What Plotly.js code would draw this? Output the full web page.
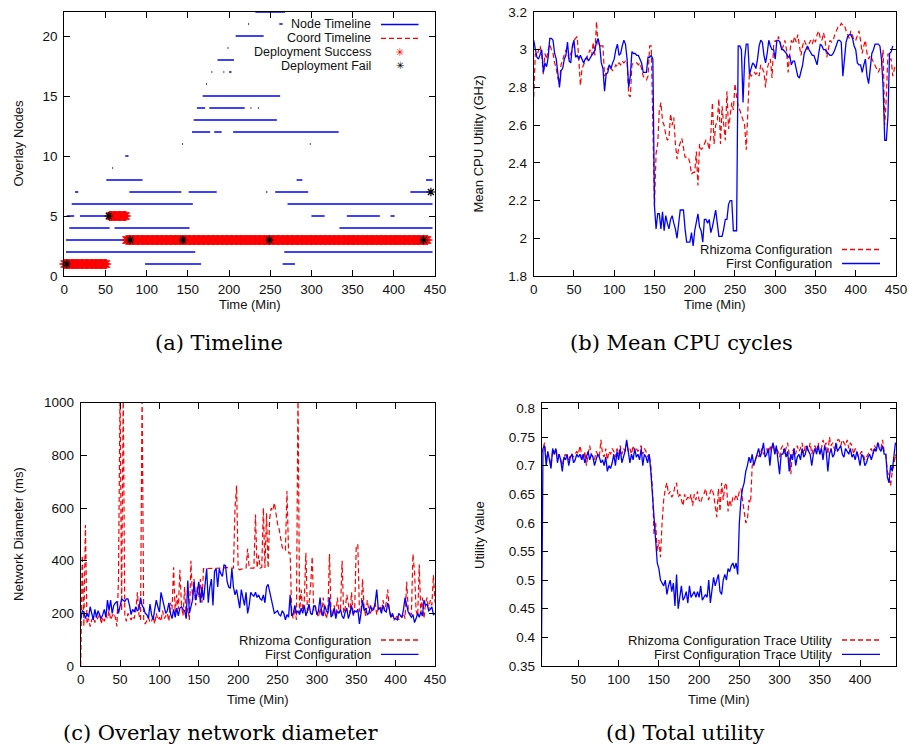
<!DOCTYPE html>
<html><head><meta charset="utf-8">
<script src="https://cdn.plot.ly/plotly-3.0.1.min.js"></script>
<style>html,body{margin:0;padding:0;background:#fff}#chart{width:909px;height:745px}</style>
</head><body><div id="chart"></div><script>
// ---------- (a) Timeline ----------
const nodeY     = [1,1, 2,2, 3, 4,4,4, 5,5,5,5,5, 6,6, 7,7,7,7,7,7, 8,8,8, 9, 10, 11,11, 12,12,12, 13, 14,14,14,14, 15, 16, 17,17,17, 18, 19, 20, 21,21, 22];
const nodeStart = [98,265, 2,267, 2, 6,61,334, 3,19,300,343,396, 9,271, 13,79,151,245,256,420, 51,282,439, 58, 74, 143,298, 155,182,205, 157, 161,176,226,235, 168, 172, 178.5,193,200, 186, 198, 208, 223,261, 232];
const nodeEnd   = [166,280, 159,447, 74, 55,152,447, 12,51,316,383,401, 156,447, 17,142,185,246.5,296,444, 95,289,447, 59.2, 78, 144.2,299.2, 177,191,333, 258, 171,219,227.2,236.2, 262, 173.2, 179.7,194.2,203, 206, 199.2, 242, 224.2,265, 268];
const runStart = [0, 55, 75];
const runEnd   = [51, 75, 441];
const runY     = [1, 5, 3];
const failX = [3, 54, 80, 144, 249, 436, 445];
const failY = [1, 5, 3, 3, 3, 3, 7];

// ---------- (b) Mean CPU utility, 2-minute samples from t=0 ----------
const cpuFirst = [
3.05,3.00,2.96,2.95,2.98,3.00,2.88,2.93,2.91,2.96,
3.06,3.06,3.05,2.98,2.95,2.88,2.80,2.89,2.90,2.95,
2.97,3.04,2.94,2.93,3.02,3.05,2.96,2.97,2.95,2.97,
2.95,2.93,2.95,2.96,2.94,2.96,2.97,2.98,3.00,3.04,
3.06,3.02,2.93,2.90,2.78,2.87,2.88,2.92,2.90,2.93,
2.95,3.00,3.03,2.97,2.98,3.02,3.05,3.03,2.95,2.80,
2.86,2.99,2.98,2.98,2.97,2.97,2.95,2.93,2.88,2.88,
2.88,2.96,2.96,2.97,2.95,2.17,2.05,2.13,2.13,2.05,
2.14,2.04,2.12,2.08,2.05,2.10,2.12,2.08,2.05,2.00,
2.08,2.15,2.15,2.15,2.05,1.98,1.98,1.98,2.03,1.96,
2.04,2.08,2.13,2.06,2.04,1.98,2.10,2.10,2.08,2.10,
2.03,2.06,2.10,2.15,2.08,2.01,2.01,2.01,2.05,2.10,
2.10,2.18,2.20,2.20,2.04,2.04,2.04,3.02,3.02,3.00,
2.72,2.95,3.03,3.03,2.87,2.90,2.93,2.92,2.90,2.95,
3.02,3.05,3.04,2.97,2.93,2.98,3.05,3.02,3.00,3.00,
2.95,3.05,3.05,3.04,3.00,3.00,2.99,2.98,2.96,2.97,
2.92,2.94,2.94,2.90,2.86,2.85,2.88,2.92,2.98,3.00,
3.02,3.00,2.98,2.97,2.97,2.94,2.92,2.98,3.03,3.02,
3.00,3.00,2.99,2.98,2.97,2.97,2.98,3.00,3.03,3.05,
3.05,3.04,2.86,2.95,3.04,3.07,3.08,3.08,3.06,3.02,
3.00,2.93,2.92,2.92,2.88,2.92,2.95,2.86,2.82,2.90,
2.98,3.00,3.03,3.03,3.03,3.02,2.95,2.80,2.52,2.52,
2.65,2.98,2.99,3.02];
const cpuRhizoma = [
2.75,2.98,2.97,2.99,3.02,2.97,2.87,2.98,2.95,3.00,
3.03,3.00,2.98,2.93,2.90,2.85,2.82,2.92,2.95,2.98,
3.00,2.98,2.95,2.98,3.00,3.05,3.06,3.07,2.95,2.81,
2.90,2.92,2.95,2.96,2.98,3.00,2.97,3.04,2.97,3.15,
3.02,3.02,3.02,3.02,2.86,2.88,2.90,2.92,2.90,2.89,
2.90,2.92,2.91,2.93,2.92,2.94,2.93,2.94,2.94,2.76,
2.75,2.92,2.93,2.93,2.93,2.92,2.93,2.90,2.86,2.85,
2.84,2.86,3.02,3.02,2.60,2.17,2.45,2.50,2.68,2.72,
2.62,2.60,2.55,2.52,2.53,2.66,2.60,2.64,2.50,2.42,
2.48,2.50,2.53,2.48,2.43,2.43,2.43,2.40,2.34,2.35,
2.35,2.46,2.28,2.50,2.47,2.48,2.50,2.52,2.51,2.47,
2.55,2.72,2.50,2.60,2.62,2.74,2.50,2.70,2.60,2.52,
2.78,2.58,2.65,2.72,2.68,2.82,2.75,2.70,2.68,2.65,
2.62,2.60,2.47,2.70,2.88,2.86,2.87,2.88,2.87,2.88,
2.86,2.92,2.90,2.88,2.80,2.90,2.93,2.95,2.85,3.02,
3.05,3.04,3.07,3.03,3.00,3.02,3.05,3.00,2.88,2.98,
3.05,3.03,3.07,3.04,3.08,3.02,2.97,3.02,3.05,3.03,
3.00,3.03,3.05,3.03,3.06,3.04,3.08,3.10,3.06,3.05,
3.09,3.05,2.96,3.00,3.05,3.04,3.05,3.08,3.10,3.12,
3.12,3.14,3.13,3.13,3.10,3.08,3.06,3.10,3.08,3.05,
3.05,3.08,3.10,3.05,2.98,3.02,3.05,2.98,2.95,2.97,
2.95,2.93,2.92,2.90,2.88,2.90,2.92,3.00,2.60,2.75,
2.98,2.95,2.95,2.86,2.90,2.92];

// ---------- (c) Network diameter (ms), 2-minute samples from t=0 ----------
const diaFirst = [
175,210,205,180,200,185,225,200,175,215,
185,210,195,180,195,215,185,250,210,250,
200,230,240,245,200,230,255,250,245,255,
255,230,195,215,205,225,210,215,260,230,
220,200,195,180,235,195,175,215,250,225,
205,280,250,225,200,210,240,200,180,215,
185,220,190,220,225,215,210,180,325,200,
230,250,320,250,280,320,240,300,250,310,
370,240,300,330,230,360,370,300,370,350,
340,385,380,320,300,295,370,300,270,290,
260,220,290,260,230,280,200,230,280,270,
265,280,260,270,255,250,270,240,300,310,
280,260,220,200,205,210,195,190,210,200,
175,195,185,270,190,200,230,200,210,195,
220,200,230,190,210,235,200,195,230,225,
195,210,260,205,190,230,210,200,260,185,
195,220,180,210,200,215,190,180,205,220,
180,200,230,195,210,205,215,160,200,250,
210,220,195,200,230,210,215,240,290,215,
220,200,230,210,205,240,215,185,200,180,
180,175,200,190,185,215,260,230,205,195,
185,195,165,180,200,185,205,190,250,230,
235,210,215,225,195,200];
const diaRhizoma = [
0,420,150,535,160,180,150,175,185,165,
190,175,200,160,185,170,195,180,210,175,
190,200,185,150,330,1050,210,1050,190,170,
200,185,175,190,180,210,280,195,175,1050,
170,160,175,185,165,170,190,160,200,175,
185,170,210,180,190,200,170,240,215,375,
200,270,215,365,230,190,300,185,220,175,
400,250,330,230,300,260,330,240,370,370,
370,370,370,370,370,370,370,370,372,372,
372,372,375,372,372,372,372,372,600,685,
370,365,368,370,370,372,445,372,372,372,
372,575,372,420,372,375,600,372,580,372,
560,600,590,620,580,540,520,480,450,440,
440,665,430,430,200,180,220,175,1050,200,
290,210,250,430,200,240,300,415,210,230,
200,185,220,190,260,205,180,210,425,190,
200,230,185,260,210,215,400,200,220,270,
240,200,280,190,215,460,460,210,200,330,
220,190,250,210,200,220,215,240,195,220,
230,205,250,210,240,290,215,180,195,175,
180,195,175,190,185,200,180,320,215,200,
195,425,360,210,190,385,200,260,180,240,
260,210,250,230,345,240];

// ---------- (d) Total utility, 2-minute samples from t=4 ----------
const utilFirst = [
0.355,0.73,0.735,0.70,0.725,0.71,0.695,0.73,0.72,0.73,
0.705,0.72,0.71,0.69,0.715,0.71,0.72,0.70,0.715,0.72,
0.705,0.71,0.72,0.715,0.72,0.71,0.72,0.705,0.715,0.725,
0.71,0.72,0.715,0.70,0.71,0.72,0.715,0.705,0.71,0.70,
0.715,0.69,0.70,0.695,0.705,0.72,0.70,0.725,0.71,0.73,
0.705,0.715,0.725,0.745,0.72,0.705,0.72,0.71,0.73,0.715,
0.72,0.71,0.73,0.70,0.72,0.715,0.705,0.72,0.69,0.65,
0.60,0.57,0.53,0.52,0.50,0.495,0.49,0.50,0.475,0.49,
0.50,0.48,0.495,0.455,0.51,0.45,0.47,0.49,0.465,0.47,
0.48,0.46,0.49,0.47,0.475,0.48,0.47,0.48,0.47,0.49,
0.465,0.47,0.475,0.47,0.50,0.46,0.485,0.505,0.49,0.50,
0.51,0.48,0.475,0.50,0.51,0.50,0.52,0.515,0.525,0.53,
0.52,0.53,0.51,0.60,0.64,0.66,0.67,0.69,0.70,0.715,
0.705,0.72,0.70,0.71,0.72,0.73,0.715,0.725,0.74,0.715,
0.72,0.73,0.70,0.73,0.74,0.72,0.735,0.71,0.685,0.72,
0.72,0.73,0.715,0.725,0.69,0.72,0.71,0.73,0.70,0.715,
0.72,0.71,0.73,0.715,0.72,0.735,0.725,0.72,0.70,0.72,
0.73,0.72,0.735,0.72,0.73,0.71,0.735,0.725,0.69,0.72,
0.73,0.715,0.72,0.74,0.725,0.73,0.735,0.72,0.715,0.73,
0.725,0.72,0.73,0.715,0.72,0.71,0.725,0.715,0.70,0.72,
0.715,0.70,0.705,0.715,0.72,0.71,0.72,0.73,0.725,0.74,
0.73,0.725,0.735,0.72,0.72,0.68,0.67,0.70,0.69,0.72,
0.74,0.735];
const utilRhizoma = [
0.72,0.73,0.74,0.71,0.72,0.715,0.70,0.725,0.72,0.73,
0.715,0.72,0.71,0.70,0.715,0.72,0.715,0.71,0.72,0.72,
0.715,0.72,0.725,0.72,0.735,0.72,0.71,0.725,0.70,0.72,
0.735,0.72,0.715,0.71,0.725,0.72,0.715,0.745,0.72,0.715,
0.73,0.71,0.725,0.72,0.73,0.725,0.715,0.73,0.72,0.735,
0.72,0.73,0.725,0.74,0.725,0.73,0.72,0.735,0.725,0.73,
0.725,0.73,0.735,0.72,0.73,0.725,0.715,0.72,0.70,0.66,
0.58,0.60,0.55,0.57,0.54,0.60,0.64,0.66,0.67,0.65,
0.655,0.645,0.65,0.665,0.67,0.645,0.65,0.64,0.63,0.65,
0.64,0.645,0.64,0.65,0.63,0.65,0.64,0.655,0.64,0.635,
0.645,0.65,0.66,0.645,0.64,0.655,0.66,0.65,0.625,0.61,
0.66,0.62,0.67,0.64,0.665,0.67,0.62,0.64,0.63,0.645,
0.64,0.65,0.64,0.655,0.66,0.64,0.62,0.60,0.605,0.64,
0.635,0.70,0.705,0.71,0.72,0.715,0.72,0.73,0.72,0.725,
0.73,0.72,0.735,0.725,0.74,0.72,0.73,0.725,0.715,0.73,
0.735,0.72,0.73,0.74,0.72,0.685,0.725,0.73,0.72,0.735,
0.725,0.73,0.74,0.72,0.735,0.73,0.725,0.74,0.72,0.73,
0.735,0.725,0.74,0.72,0.73,0.745,0.735,0.74,0.72,0.75,
0.735,0.74,0.73,0.725,0.745,0.745,0.735,0.745,0.74,0.735,
0.745,0.73,0.74,0.735,0.72,0.73,0.725,0.715,0.72,0.725,
0.72,0.71,0.715,0.72,0.725,0.73,0.72,0.735,0.73,0.74,
0.735,0.73,0.745,0.725,0.72,0.69,0.68,0.665,0.69,0.70,
0.72,0.71];

// tick labels
const timeTicks = [0,50,100,150,200,250,300,350,400,450];
const utilTimeTicks = [50,100,150,200,250,300,350,400];
const nodeTicks = [0,5,10,15,20];
const cpuTicks = [1.8,2.0,2.2,2.4,2.6,2.8,3.0,3.2];
const cpuTickText = ['1.8','2','2.2','2.4','2.6','2.8','3','3.2'];
const diaTicks = [0,200,400,600,800,1000];
const utilTicks = [0.35,0.4,0.45,0.5,0.55,0.6,0.65,0.7,0.75,0.8];
const utilTickText = ['0.35','0.4','0.45','0.5','0.55','0.6','0.65','0.7','0.75','0.8'];

// ---------- build traces ----------
const BLUE = '#0000ff', RED = '#ff0000';
const times = (arr, t0) => arr.map((_, i) => t0 + 2 * i);

const segX = [], segY = [];
nodeY.forEach((y, i) => { segX.push(nodeStart[i], nodeEnd[i], null); segY.push(y, y, null); });
const coordX = [], coordY = [];
runY.forEach((y, i) => { coordX.push(runStart[i], runEnd[i], null); coordY.push(y, y, null); });
const succX = [], succY = [];
runY.forEach((y, i) => { for (let t = runStart[i]; t <= runEnd[i]; t++) { succX.push(t); succY.push(y); } });

const traces = [
  {x: segX, y: segY, xaxis:'x', yaxis:'y', mode:'lines', line:{color:BLUE, width:1.5}, connectgaps:false, hoverinfo:'skip'},
  {x: coordX, y: coordY, xaxis:'x', yaxis:'y', mode:'lines', line:{color:RED, width:1.2, dash:'5px,3px'}, connectgaps:false, hoverinfo:'skip'},
  {x: succX, y: succY, xaxis:'x', yaxis:'y', mode:'markers', cliponaxis:false,
   marker:{symbol:'asterisk-open', size:8.5, color:RED, line:{color:RED, width:1.1}}},
  {x: failX, y: failY, xaxis:'x', yaxis:'y', mode:'markers', cliponaxis:false,
   marker:{symbol:'asterisk-open', size:7, color:'#000', line:{color:'#000', width:1.2}}},

  {x: times(cpuRhizoma,0), y: cpuRhizoma, xaxis:'x2', yaxis:'y2', mode:'lines', line:{color:RED, width:1.2, dash:'5px,3px'}},
  {x: times(cpuFirst,0), y: cpuFirst, xaxis:'x2', yaxis:'y2', mode:'lines', line:{color:BLUE, width:1.3}},

  {x: times(diaRhizoma,0), y: diaRhizoma, xaxis:'x3', yaxis:'y3', mode:'lines', line:{color:RED, width:1.2, dash:'5px,3px'}},
  {x: times(diaFirst,0), y: diaFirst, xaxis:'x3', yaxis:'y3', mode:'lines', line:{color:BLUE, width:1.3}},

  {x: times(utilRhizoma,4), y: utilRhizoma, xaxis:'x4', yaxis:'y4', mode:'lines', line:{color:RED, width:1.2, dash:'5px,3px'}},
  {x: times(utilFirst,4), y: utilFirst, xaxis:'x4', yaxis:'y4', mode:'lines', line:{color:BLUE, width:1.3}}
];

const SANS = 'Liberation Sans, Arial, Helvetica, sans-serif';
const SERIF = 'DejaVu Serif, serif';
const W = 909, H = 745;
const px = v => v / W, py = v => 1 - v / H;

function ax(domain, range, tickvals, ticktext, anchor, standoff) {
  return {domain, range, tickmode:'array', tickvals, ticktext: ticktext || tickvals.map(String), anchor,
    ticks:'inside', ticklen:6, tickwidth:1, tickcolor:'#000', mirror:'ticks',
    showline:true, linecolor:'#000', linewidth:1, showgrid:false, zeroline:false,
    tickfont:{family:SANS, size:13.5, color:'#111'}, ticklabelstandoff:standoff, fixedrange:true};
}

const ann = [];
function text(t, x, y, opts) {
  ann.push(Object.assign({text:t, x:x, y:y, xref:'paper', yref:'paper', showarrow:false, borderpad:0,
    xanchor:'center', yanchor:'middle', font:{family:SANS, size:13, color:'#111'}}, opts || {}));
}
// axis titles
text('Time (Min)', px(249.7), py(304));
text('Time (Min)', px(714.9), py(304));
text('Time (Min)', px(257.9), py(699));
text('Time (Min)', px(718.9), py(699));
text('Overlay Nodes', px(18.5), py(144), {textangle:-90});
text('Mean CPU Utility (GHz)', px(478.5), py(144), {textangle:-90});
text('Network Diameter (ms)', px(18.5), py(534.4), {textangle:-90});
text('Utility Value', px(479.5), py(534.4), {textangle:-90});
// captions
const capFont = {family:SERIF, size:21, color:'#000'};
text('(a) Timeline', px(219), py(343), {font:capFont});
text('(b) Mean CPU cycles', px(681.5), py(343), {font:capFont});
text('(c) Overlay network diameter', px(220), py(733), {font:capFont});
text('(d) Total utility', px(685), py(733), {font:capFont});

// legends (gnuplot style: text right-aligned, sample on the right)
const shapes = [];
function legLine(x0, x1, y, color, dash) {
  shapes.push({type:'line', xref:'paper', yref:'paper', x0:px(x0), x1:px(x1), y0:py(y), y1:py(y),
    line:{color:color, width:1.3, dash:dash || 'solid'}});
}
const legText = (t, xr, y, sz) => text(t, px(xr), py(y), {xanchor:'right', font:{family:SANS, size:sz || 13, color:'#111'}});
// (a)
legText('Node Timeline', 372, 24.5, 12.5);   legLine(381, 418.5, 24.5, BLUE);
legText('Coord Timeline', 372, 38.3, 12.5); legLine(381, 418.5, 38.3, RED, '5px,3px');
legText('Deployment Success', 372, 52.2, 12.5);
text('✳', px(399.5), py(52.2), {font:{family:'DejaVu Sans', size:11, color:RED}});
legText('Deployment Fail', 372, 66, 12.5);
text('✳', px(399.5), py(66), {font:{family:'DejaVu Sans', size:10, color:'#000'}});
// (b)
legText('Rhizoma Configuration', 833, 249.5); legLine(842, 880, 249.5, RED, '5px,3px');
legText('First Configuration', 833, 263.5); legLine(842, 880, 263.5, BLUE);
// (c)
legText('Rhizoma Configuration', 372, 640); legLine(381, 418.5, 640, RED, '5px,3px');
legText('First Configuration', 372, 654.3); legLine(381, 418.5, 654.3, BLUE);
// (d)
legText('Rhizoma Configuration Trace Utility', 833, 640); legLine(842, 880, 640, RED, '5px,3px');
legText('First Configuration Trace Utility', 833, 654.3); legLine(842, 880, 654.3, BLUE);

const layout = {
  width: W, height: H, margin:{l:0, r:0, t:0, b:0}, paper_bgcolor:'#fff', plot_bgcolor:'#fff',
  showlegend:false, font:{family:SANS, color:'#111'},
  xaxis:  ax([px(64.3), px(435)], [0,450], timeTicks, null, 'y', 1),
  yaxis:  ax([py(276), py(12)], [0,22], nodeTicks, null, 'x', 3),
  xaxis2: ax([px(533.7), px(896)], [0,450], timeTicks, null, 'y2', 1),
  yaxis2: ax([py(276), py(12)], [1.8,3.2], cpuTicks, cpuTickText, 'x2', 3),
  xaxis3: ax([px(80.7), px(435)], [0,450], timeTicks, null, 'y3', 1),
  yaxis3: ax([py(666), py(402.7)], [0,1000], diaTicks, null, 'x3', 3),
  xaxis4: ax([px(541.7), px(896)], [4.4,444.7], utilTimeTicks, null, 'y4', 1),
  yaxis4: ax([py(666), py(402.7)], [0.35,0.81], utilTicks, utilTickText, 'x4', 3),
  annotations: ann, shapes: shapes
};
Plotly.newPlot('chart', traces, layout, {displayModeBar:false, staticPlot:true});
</script></body></html>
